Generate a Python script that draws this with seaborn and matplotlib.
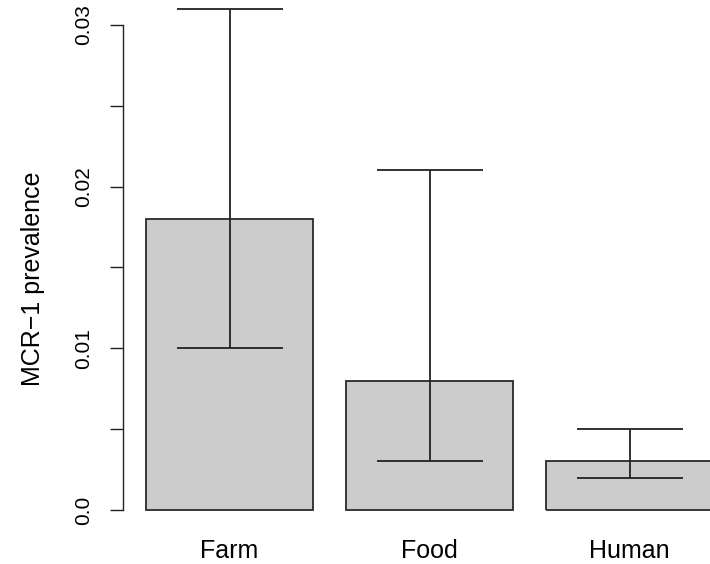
import numpy as np
import seaborn as sns
import matplotlib.pyplot as plt
from matplotlib.patches import Rectangle

groups = ['Farm', 'Food', 'Human']
prevalence = [0.018, 0.008, 0.003]
ci_low = [0.010, 0.003, 0.002]
ci_high = [0.031, 0.021, 0.005]

plt.rcParams['font.family'] = ['Liberation Sans', 'DejaVu Sans']

fig = plt.figure(figsize=(7.1, 5.64), dpi=100)
# axes run past the right edge of the figure, like the cropped original
ax = fig.add_axes([123 / 710, (54 - 1.6) / 564, 600 / 710, 506 / 564])

sns.barplot(x=groups, y=prevalence, color='#cccccc', saturation=1, width=0.835,
            edgecolor='none', ax=ax)
# outlines as unfilled copies so the cut-off bar gets no edge at the image border
for p in list(ax.patches):
    ax.add_patch(Rectangle(p.get_xy(), p.get_width(), p.get_height(), fill=False,
                           edgecolor='#2a2a2a', linewidth=1.3))

pos = np.arange(len(groups))
mid = np.array(prevalence)
yerr = [mid - np.array(ci_low), np.array(ci_high) - mid]
ax.errorbar(pos, mid, yerr=yerr, fmt='none', ecolor='#222222', elinewidth=1.3,
            capsize=38, capthick=1.3, clip_on=False)

ax.set_xlim(-0.5325, 2.4675)
ax.set_ylim(-0.0001, 0.0312)

for s in ['top', 'right', 'bottom']:
    ax.spines[s].set_visible(False)
ax.spines['left'].set_bounds(0, 0.03)
ax.spines['left'].set_color('#222222')
ax.spines['left'].set_linewidth(1)

yt = [0, 0.005, 0.01, 0.015, 0.02, 0.025, 0.03]
ylab = ['0.0', '', '0.01', '', '0.02', '', '0.03']
ax.set_yticks(yt)
ax.set_yticklabels(ylab, rotation=90, va='center', fontsize=15)
ax.tick_params(axis='y', length=9.5, width=1, color='#222222', pad=12)
ax.tick_params(axis='x', length=0, labelsize=18, pad=20)

ax.set_ylabel('MCR\u22121 prevalence', fontsize=18)
ax.yaxis.set_label_coords((45 - 123) / 600, (510 - 279 + 1.6) / 506)
ax.set_xlabel('')

fig.savefig('out.png', dpi=100)
